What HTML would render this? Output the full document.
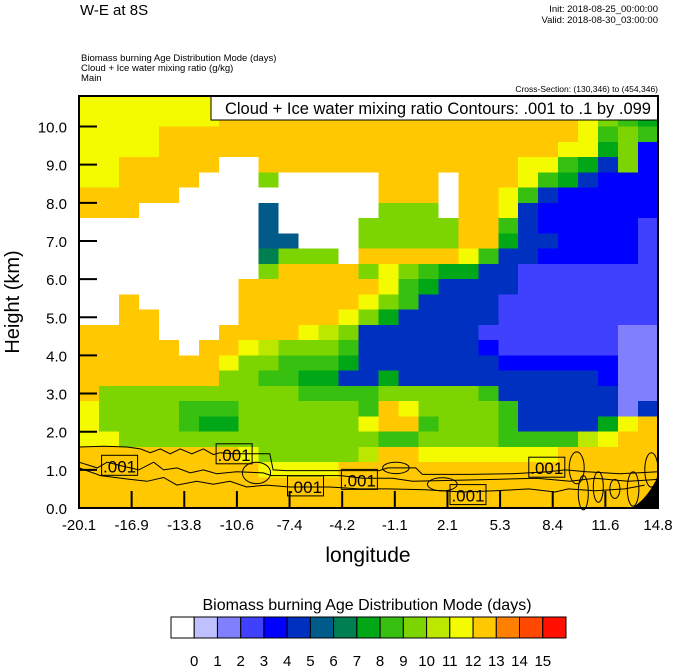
<!DOCTYPE html>
<html><head><meta charset="utf-8">
<style>
html,body{margin:0;padding:0;background:#fff;}
body{width:674px;height:667px;overflow:hidden;font-family:"Liberation Sans",Arial,sans-serif;}
svg text{font-family:"Liberation Sans",Arial,sans-serif;}
</style></head>
<body>
<svg id="chart" width="674" height="667" viewBox="0 0 674 667" xmlns="http://www.w3.org/2000/svg">
  <text x="80" y="15" font-size="15">W-E at 8S</text>
  <text x="658" y="12" font-size="9.5" text-anchor="end">Init: 2018-08-25_00:00:00</text>
  <text x="658" y="23" font-size="9.5" text-anchor="end">Valid: 2018-08-30_03:00:00</text>
  <text x="81" y="61" font-size="9.5">Biomass burning Age Distribution Mode   (days)</text>
  <text x="81" y="71" font-size="9.5">Cloud + Ice water mixing ratio   (g/kg)</text>
  <text x="81" y="81" font-size="9.5">Main</text>
  <text x="658" y="92" font-size="8.5" text-anchor="end">Cross-Section: (130,346) to (454,346)</text>
  <g id="cells" shape-rendering="crispEdges"></g>
  <g id="contours" fill="none" stroke="#000" stroke-width="1"></g>
  <path d="M632,508 Q648,498 658,476 L658,508 Z" fill="#000"/>
  <g id="labels"></g>
  <rect x="211" y="96" width="447" height="24" fill="#fff" stroke="#000" stroke-width="1"/>
  <text x="651" y="114" font-size="16.5" text-anchor="end">Cloud + Ice water mixing ratio Contours: .001 to .1 by .099</text>
  <g id="axes"></g>
  <rect x="79" y="96" width="579" height="412" fill="none" stroke="#000" stroke-width="2"/>
  <text transform="translate(19,302) rotate(-90)" font-size="20" text-anchor="middle">Height (km)</text>
  <text x="368" y="562" font-size="21" text-anchor="middle">longitude</text>
  <text x="367" y="610" font-size="16" text-anchor="middle">Biomass burning Age Distribution Mode  (days)</text>
  <g id="colorbar"></g>
</svg>
<script>
const levelColors = ["#FFFFFF","#C0C0FF","#8080FF","#4040FF","#0000FF","#0030C0","#005A8A","#008050","#00A818","#38C010","#7CD400","#BCE800","#F4FA00","#FFC800","#FF8000","#FF4800","#FF1000"];
const colorbarLabels = ["0","1","2","3","4","5","6","7","8","9","10","11","12","13","14","15"];
const xTickLabels = ["-20.1","-16.9","-13.8","-10.6","-7.4","-4.2","-1.1","2.1","5.3","8.4","11.6","14.8"];
const yTickValues = [0,1,2,3,4,5,6,7,8,9,10];
const lonRange = [-20.1, 14.8];
const heightRange = [0, 10.8];
// grid of age-mode level codes (0-9, A=10 ... G=16); rows top (10.8 km) to bottom (0 km)
const gridRows = [
"CCCCCCCDDDDDDDDDDDDDDDDDDCA99",
"CCCCCCCDDDDDDDDDDDDDDDDDDCA98",
"CCCCDDDDDDDDDDDDDDDDDDDDDC9A9",
"CCCCDDDDDDDDDDDDDDDDDDDDCC8A4",
"CCDDDDD00DDDDDDDDDDDDDCC985A4",
"CCDDDD000A00000DDD0DDDC985444",
"DDDDD0000000000DDD0DDC9544444",
"DDD000000600000AAA0DDC5444444",
"00000000060000AAAAADD95444443",
"00000000066000AAAAADD85544443",
"0000000007AAA0DDDDDC955444443",
"000000000ADDDDACA988553333333",
"00000000DDDDDDDC9855553333333",
"00D00000DDDDDDCA9555533333333",
"00DD0000DDDDDCA85555533333333",
"DDDD000DDDDCBA555555333333322",
"DDDDD0DDCBAAA9555555433333322",
"DDDDDDDCAA9998555555544444422",
"DDDDDDDAA99885585555555555422",
"DAAAAAAAAAA9999AAAAA955555522",
"CAAAA999AAAAAA9DCAAAA95555525",
"CAAAA988AAAAAACDD9AAA95555 8CD".replace(" ",""),
"CCAAAAAAAAAAAAA99AAAA9999BCDD",
"DDDDDDDDCAAAAABDDCCCCCCCDDDDD",
"DDDDDDDDDCCCCDDDDDDDDDDDDDDDD",
"DDDDDDDDDDDDDDDDDDDDDDDDDDDDD",
"DDDDDDDDDDDDDDDDDDDDDDDDDDDDD"
];
// 0.001 g/kg contour polylines [lon, km]
const contourTop = [[-20.1,1.6],[-18.6,1.62],[-17.2,1.6],[-16.4,1.55],[-15.8,1.45],[-15.2,1.55],[-14.6,1.42],[-14.0,1.55],[-13.3,1.42],[-12.6,1.55],[-12.0,1.4],[-11.6,1.45],[-10.8,1.42],[-8.6,1.42],[-8.4,1.0],[-7.6,0.98],[-4.3,0.98],[-2.0,0.98],[-1.5,1.05],[0.2,1.05],[0.6,0.88],[3.5,0.88],[6.0,0.9],[8.2,0.95],[9.2,1.0],[10.5,0.95],[12.5,0.9],[14.8,0.95]];
const contourMid = [[-20.1,1.2],[-19.0,1.05],[-18.4,1.2],[-17.5,1.1],[-16.5,1.0],[-15.6,1.2],[-15.0,1.0],[-14.2,1.05],[-13.4,0.92],[-12.6,1.0],[-11.8,0.9],[-10.6,0.95],[-9.0,0.92],[-8.5,0.85],[-7.5,0.85],[-4.3,0.85],[-3.0,0.78],[-1.2,0.78],[0.0,0.7],[2.0,0.72],[5.0,0.75],[7.5,0.78],[9.5,0.7],[11.0,0.78],[13.0,0.7],[14.8,0.75]];
const contourLow = [[-20.1,1.05],[-18.8,0.85],[-17.0,0.75],[-16.0,0.7],[-15.0,0.8],[-14.2,0.6],[-13.0,0.7],[-12.0,0.62],[-11.0,0.7],[-10.0,0.55],[-8.8,0.6],[-7.4,0.55],[-5.0,0.55],[-3.2,0.5],[-1.5,0.5],[0.8,0.48],[3.0,0.42],[5.0,0.45],[7.0,0.5],[8.6,0.42],[9.4,0.5],[11.0,0.45],[12.8,0.5],[14.0,0.6]];
// closed loops: [lon, km, halfWidthLon, halfHeightKm]
const contourLoops = [[-9.4,0.92,0.85,0.28],[-1.0,1.05,0.8,0.15],[1.8,0.62,0.9,0.17],[9.9,1.05,0.45,0.42],[10.3,0.4,0.3,0.45],[11.2,0.55,0.3,0.4],[12.2,0.5,0.3,0.25],[13.3,0.5,0.35,0.45],[14.4,1.0,0.4,0.45]];
const labelLon = [-17.65,-10.75,-6.45,-3.2,3.35,8.1];
const labelKm = [1.12,1.42,0.58,0.75,0.35,1.07];

const NS="http://www.w3.org/2000/svg";
const PL=79, PR=658, PT=96, PB=508;
function xScale(lon){return PL+(lon-lonRange[0])/(lonRange[1]-lonRange[0])*(PR-PL);}
function yScale(km){return PB-(km-heightRange[0])/(heightRange[1]-heightRange[0])*(PB-PT);}
function mk(tag,attrs,parent){const e=document.createElementNS(NS,tag);for(const k in attrs)e.setAttribute(k,attrs[k]);parent.appendChild(e);return e;}

const cells=document.getElementById('cells');
const nR=gridRows.length, nC=gridRows[0].length;
const dLon=(lonRange[1]-lonRange[0])/nC, dKm=(heightRange[1]-heightRange[0])/nR;
for(let r=0;r<nR;r++){
  for(let c=0;c<nC;c++){
    const v=parseInt(gridRows[r][c],17);
    const x0=xScale(lonRange[0]+c*dLon), x1=xScale(lonRange[0]+(c+1)*dLon);
    const y0=yScale(heightRange[1]-r*dKm), y1=yScale(heightRange[1]-(r+1)*dKm);
    const e=mk('rect',{x:x0.toFixed(1),y:y0.toFixed(1),width:(x1-x0+0.6).toFixed(1),height:(y1-y0+0.6).toFixed(1),fill:levelColors[v]},cells);
    
    
  }
}
const cg=document.getElementById('contours');
[contourTop,contourMid,contourLow].forEach(line=>{
  const e=mk('polyline',{points:line.map(p=>xScale(p[0]).toFixed(1)+','+yScale(p[1]).toFixed(1)).join(' ')},cg);
  
  
});
contourLoops.forEach(l=>{
  const cx=xScale(l[0]), cy=yScale(l[1]);
  const e=mk('ellipse',{cx:cx.toFixed(1),cy:cy.toFixed(1),rx:(xScale(l[0]+l[2])-cx).toFixed(1),ry:(cy-yScale(l[1]+l[3])).toFixed(1)},cg);
  
  
});
const lg=document.getElementById('labels');
labelLon.forEach((lon,i)=>{
  const cx=xScale(lon), cy=yScale(labelKm[i]);
  const b=mk('rect',{x:(cx-18).toFixed(1),y:(cy-10).toFixed(1),width:36,height:20,fill:"none",stroke:"#000","stroke-width":1},lg);
  
  
  const t=mk('text',{x:cx.toFixed(1),y:(cy+7).toFixed(1),"font-size":17,"text-anchor":"middle"},lg);
  t.textContent='.001';
  
  
});
const ax=document.getElementById('axes');
yTickValues.forEach(v=>{
  const y=yScale(v);
  const l=mk('line',{x1:PL,x2:PL+18,y1:y,y2:y,stroke:"#000","stroke-width":2},ax);
  
  
  const t=mk('text',{x:67,y:(y+6).toFixed(1),"font-size":15,"text-anchor":"end"},ax);
  t.textContent=v.toFixed(1);
  
  
});
xTickLabels.forEach((lab,i)=>{
  const x=PL+i*(PR-PL)/(xTickLabels.length-1);
  const l=mk('line',{x1:x,x2:x,y1:PB,y2:PB-17,stroke:"#000","stroke-width":2},ax);
  
  
  const t=mk('text',{x:x,y:530,"font-size":15,"text-anchor":"middle"},ax);
  t.textContent=lab;
  
  
});
const cb=document.getElementById('colorbar');
const CBL=171, CBR=566, CBT=617, CBH=21, bw=(CBR-CBL)/levelColors.length;
levelColors.forEach((col,i)=>{
  const e=mk('rect',{x:(CBL+i*bw).toFixed(1),y:CBT,width:bw.toFixed(1),height:CBH,fill:col,stroke:"#000","stroke-width":1},cb);
  
  
});
colorbarLabels.forEach((lab,i)=>{
  const t=mk('text',{x:(CBL+(i+1)*bw).toFixed(1),y:666,"font-size":15,"text-anchor":"middle"},cb);
  t.textContent=lab;
  
  
});
</script>
</body></html>
